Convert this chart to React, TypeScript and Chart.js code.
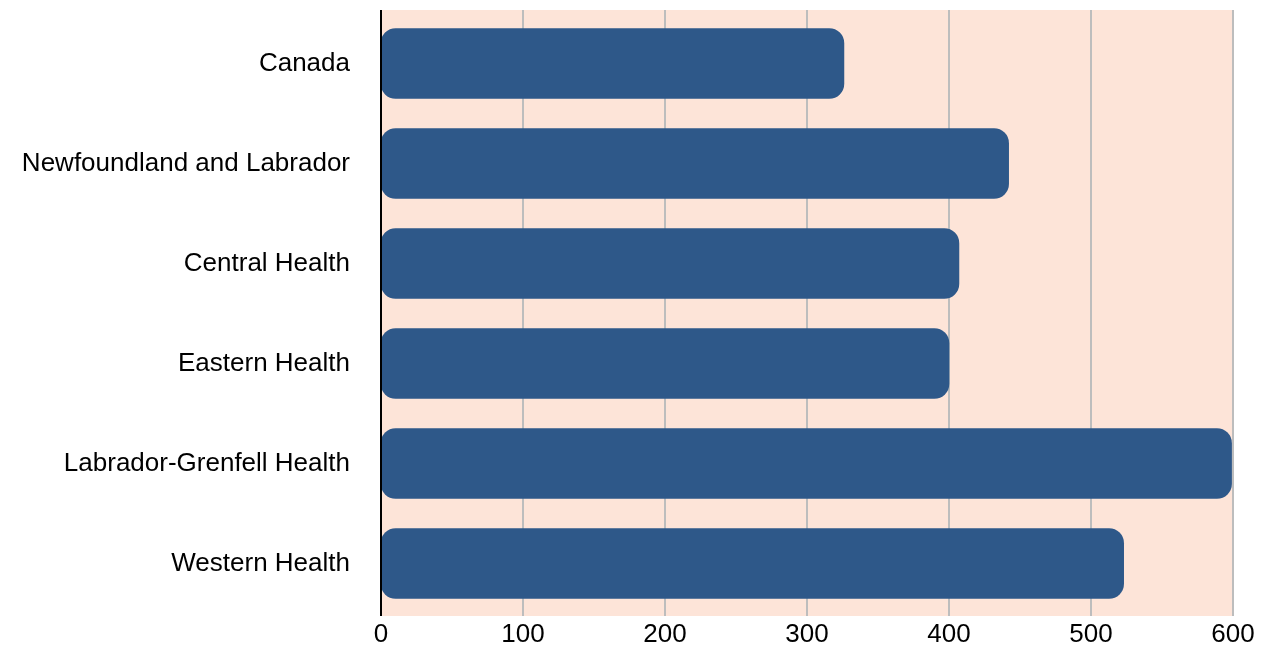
import React, { useEffect, useRef } from "react";
import { Chart, registerables } from "chart.js";

Chart.register(...registerables);

const categories = [
  "Canada",
  "Newfoundland and Labrador",
  "Central Health",
  "Eastern Health",
  "Labrador-Grenfell Health",
  "Western Health",
];
const values = [326, 442, 407, 400, 599, 523];
const xTicks = [0, 100, 200, 300, 400, 500, 600];

const EXT_TOP = 3.5;
const EXT_BOTTOM = 2.5;

const bgPlugin = {
  id: "areaBg",
  beforeDatasetsDraw(chart: any) {
    const { ctx, chartArea, scales } = chart;
    const top = chartArea.top - EXT_TOP;
    const bottom = chartArea.bottom + EXT_BOTTOM;
    ctx.save();
    ctx.fillStyle = "#fde4d8";
    ctx.fillRect(chartArea.left, top, chartArea.right - chartArea.left, bottom - top);
    ctx.strokeStyle = "#bdbdbd";
    ctx.lineWidth = 2;
    xTicks.forEach((t) => {
      if (t === 0) return;
      const x = scales.x.getPixelForValue(t);
      ctx.beginPath();
      ctx.moveTo(x, top);
      ctx.lineTo(x, bottom);
      ctx.stroke();
    });
    ctx.restore();
  },
  afterDatasetsDraw(chart: any) {
    const { ctx, chartArea, scales } = chart;
    const top = chartArea.top - EXT_TOP;
    const bottom = chartArea.bottom + EXT_BOTTOM;
    ctx.save();
    ctx.strokeStyle = "#000";
    ctx.lineWidth = 2;
    const x0 = scales.x.getPixelForValue(0);
    ctx.beginPath();
    ctx.moveTo(x0, top);
    ctx.lineTo(x0, bottom);
    ctx.stroke();
    ctx.restore();
  },
};

export default function App() {
  const ref = useRef<HTMLCanvasElement | null>(null);
  useEffect(() => {
    if (!ref.current) return;
    const chart = new Chart(ref.current, {
      type: "bar",
      data: {
        labels: categories,
        datasets: [
          {
            data: values,
            backgroundColor: "#2e5889",
            borderWidth: 0,
            borderRadius: 15,
            borderSkipped: false,
            barThickness: 70,
          },
        ],
      },
      options: {
        indexAxis: "y",
        animation: false,
        responsive: true,
        maintainAspectRatio: false,
        layout: { padding: { left: 0, right: 28, top: 13.5, bottom: 0 } },
        plugins: { legend: { display: false }, tooltip: { enabled: false } },
        scales: {
          x: {
            min: 0,
            max: 600,
            afterBuildTicks(scale: any) {
              scale.ticks = xTicks.map((v) => ({ value: v }));
            },
            afterFit(scale: any) {
              scale.height = 42.5;
              scale.paddingLeft = 0;
              scale.paddingRight = 0;
            },
            grid: { display: false, drawTicks: false },
            border: { display: false },
            ticks: {
              color: "#000",
              padding: 5.5,
              font: { family: "Liberation Sans, Arial, sans-serif", size: 26 },
            },
          },
          y: {
            afterFit(scale: any) {
              scale.width = 381;
              scale.paddingTop = 0;
              scale.paddingBottom = 0;
            },
            grid: { display: false, drawTicks: false },
            border: { display: false },
            ticks: {
              color: "#000",
              padding: 31,
              font: { family: "Liberation Sans, Arial, sans-serif", size: 26 },
            },
          },
        },
      },
      plugins: [bgPlugin],
    });
    return () => chart.destroy();
  }, []);
  return (
    <div style={{ position: "fixed", left: 0, top: 0, width: 1261, height: 656 }}>
      <canvas ref={ref} />
    </div>
  );
}
